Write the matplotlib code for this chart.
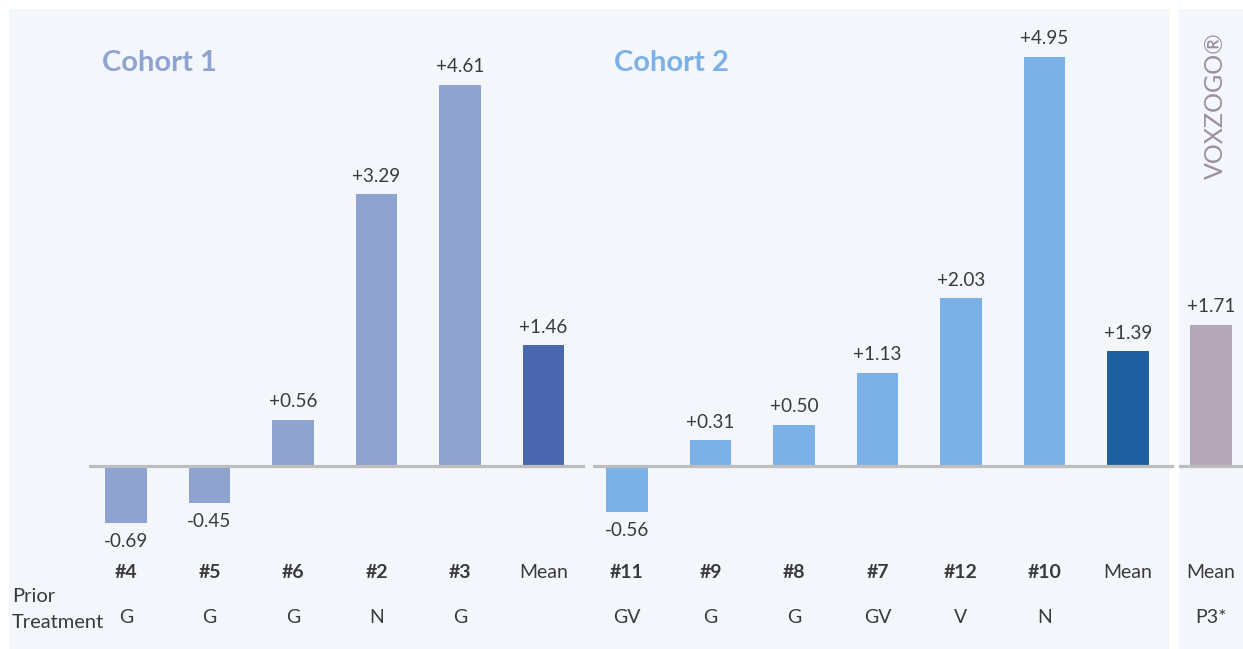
import matplotlib.pyplot as plt
import numpy as np

plt.rcParams['font.family'] = ['Lato', 'DejaVu Sans']

# Data
cohort1_ids = ['#4', '#5', '#6', '#2', '#3', 'Mean']
cohort1_vals = [-0.69, -0.45, 0.56, 3.29, 4.61, 1.46]
cohort1_tx = ['G', 'G', 'G', 'N', 'G', '']

cohort2_ids = ['#11', '#9', '#8', '#7', '#12', '#10', 'Mean']
cohort2_vals = [-0.56, 0.31, 0.50, 1.13, 2.03, 4.95, 1.39]
cohort2_tx = ['GV', 'G', 'G', 'GV', 'V', 'N', '']

p3_ids = ['Mean']
p3_vals = [1.71]
p3_tx = ['P3*']

c1_color, c1_mean = '#8FA3D1', '#4A66AF'
c2_color, c2_mean = '#7BB1E6', '#1F5E9F'
p3_color = '#B4A8B6'
txt_color = '#3A3A3A'
bg = '#F3F6FA'

W, H = 1243, 649
fig = plt.figure(figsize=(W / 100, H / 100), dpi=100)
fig.patch.set_facecolor('white')

step = 83.5  # px per category
x0_px = 126
ymin, ymax = -2.215, 5.53

ax = fig.add_axes([9 / W, 0, (1170 - 9) / W, (H - 9) / H])
ax.set_facecolor(bg)
ax.set_xlim((9 - x0_px) / step, (1170 - x0_px) / step)
ax.set_ylim(ymin, ymax)

ids = cohort1_ids + cohort2_ids
vals = cohort1_vals + cohort2_vals
tx = cohort1_tx + cohort2_tx
colors = [c1_color] * 5 + [c1_mean] + [c2_color] * 6 + [c2_mean]
x = np.arange(len(ids))

ax.bar(x, vals, width=0.5, color=colors, zorder=2)

# baselines
ax.plot([(90 - x0_px) / step, (583 - x0_px) / step], [0, 0], color='#BDBDBD', lw=2.3, zorder=3)
ax.plot([(594 - x0_px) / step, (1172 - x0_px) / step], [0, 0], color='#BDBDBD', lw=2.3, zorder=3, clip_on=False)


def label_bars(a, xs, vs):
    for xi, v in zip(xs, vs):
        s = f'+{v:.2f}' if v > 0 else f'{v:.2f}'
        off = 13 if v > 0 else -13
        a.annotate(s, (xi, v), xytext=(0, off), textcoords='offset points',
                   ha='center', va='center', fontsize=13.6, color=txt_color)


label_bars(ax, x, vals)

for xi, name, t in zip(x, ids, tx):
    bold = 'normal' if name == 'Mean' else 'bold'
    ax.text(xi, -1.295, name, ha='center', va='center', fontsize=14,
            fontweight=bold, color=txt_color)
    ax.text(xi, -1.83, t, ha='center', va='center', fontsize=14, color=txt_color)

ax.text((12 - x0_px) / step, -1.585, 'Prior', ha='left', va='center', fontsize=14.5, color=txt_color)
ax.text((12 - x0_px) / step, -1.89, 'Treatment', ha='left', va='center', fontsize=14.5, color=txt_color)

ax.text((102 - x0_px) / step, 4.88, 'Cohort 1', ha='left', va='center', fontsize=21,
        fontweight='bold', color=c1_color)
ax.text((614 - x0_px) / step, 4.88, 'Cohort 2', ha='left', va='center', fontsize=21,
        fontweight='bold', color=c2_color)

ax.set_xticks([])
ax.set_yticks([])
for s in ax.spines.values():
    s.set_visible(False)

# VOXZOGO panel
ax2 = fig.add_axes([1179 / W, 0, (W - 1179) / W, (H - 9) / H])
ax2.set_facecolor(bg)
ax2.set_xlim((1179 - 1211) / step, (W - 1211) / step)
ax2.set_ylim(ymin, ymax)
ax2.bar([0], p3_vals, width=0.5, color=p3_color, zorder=2)
ax2.axhline(0, color='#BDBDBD', lw=2.3, zorder=3)
label_bars(ax2, [0], p3_vals)
ax2.text(0, -1.295, p3_ids[0], ha='center', va='center', fontsize=14, color=txt_color)
ax2.text(0, -1.83, p3_tx[0], ha='center', va='center', fontsize=14, color=txt_color)
ax2.text(0.05, 4.36, 'VOXZOGO®', rotation=90, ha='center', va='center', fontsize=18,
         color='#9B8F9F')
ax2.set_xticks([])
ax2.set_yticks([])
for s in ax2.spines.values():
    s.set_visible(False)

fig.savefig('out.png', dpi=100, facecolor='white')
